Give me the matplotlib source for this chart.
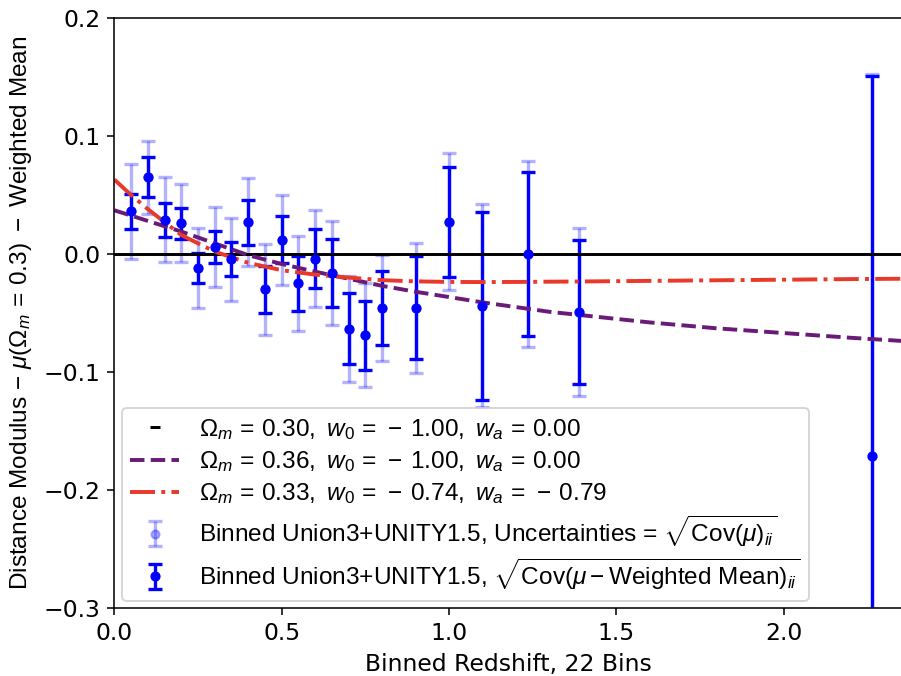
import numpy as np
import matplotlib.pyplot as plt
from matplotlib.lines import Line2D

plt.rcParams['mathtext.fontset'] = 'custom'
plt.rcParams['mathtext.rm'] = 'Liberation Sans'
plt.rcParams['mathtext.it'] = 'Liberation Sans:italic'
plt.rcParams['mathtext.bf'] = 'Liberation Sans:bold'
plt.rcParams['font.size'] = 12

# binned Hubble residuals (22 bins)
z_bin = [0.05, 0.10, 0.15, 0.20, 0.25, 0.30, 0.35, 0.40, 0.45, 0.50, 0.55,
         0.60, 0.65, 0.70, 0.75, 0.80, 0.90, 1.00, 1.10, 1.235, 1.39, 2.265]
resid = [0.036, 0.065, 0.029, 0.026, -0.012, 0.006, -0.0045, 0.027, -0.030,
         0.012, -0.025, -0.004, -0.016, -0.0635, -0.069, -0.046, -0.0455,
         0.0275, -0.044, 0.000, -0.049, -0.1715]
# sqrt(Cov(mu)_ii)
err_cov = [0.040, 0.031, 0.036, 0.033, 0.034, 0.034, 0.035, 0.037, 0.0385,
           0.038, 0.040, 0.041, 0.044, 0.045, 0.044, 0.045, 0.055, 0.058,
           0.086, 0.079, 0.071, 0.324]
# sqrt(Cov(mu - weighted mean)_ii)
err_wm = [0.0145, 0.017, 0.0145, 0.013, 0.0127, 0.0134, 0.0144, 0.019, 0.020,
          0.020, 0.023, 0.025, 0.029, 0.030, 0.029, 0.0315, 0.0435, 0.0466,
          0.0795, 0.0697, 0.061, 0.322]

# model curves relative to Om=0.3 LCDM, minus weighted mean
z_model = [0.0, 0.05, 0.1, 0.15, 0.2, 0.3, 0.4, 0.5, 0.6, 0.7, 0.8, 0.9, 1.0,
           1.1, 1.2, 1.3, 1.4, 1.6, 1.8, 2.0, 2.2, 2.4]
mu_om036 = [0.037, 0.0325, 0.028, 0.0235, 0.019, 0.009, -0.001, -0.0085,
            -0.015, -0.021, -0.027, -0.032, -0.0365, -0.041, -0.045, -0.049,
            -0.052, -0.058, -0.063, -0.067, -0.071, -0.0745]
mu_w0wa = [0.063, 0.050, 0.038, 0.027, 0.016, 0.002, -0.0075, -0.0138,
           -0.0175, -0.020, -0.0222, -0.0232, -0.0237, -0.0238, -0.0237,
           -0.0235, -0.0233, -0.0228, -0.0223, -0.0218, -0.0213, -0.0209]

fig = plt.figure(figsize=(6.4, 4.8), dpi=140.84)
ax = fig.add_axes([0.1269, 0.1006, 0.8745, 0.8728])

ax.errorbar(z_bin, resid, yerr=err_cov, fmt='o', color='blue', alpha=0.3,
            ms=4.2, elinewidth=1.7, capsize=3.5, capthick=1.7)
ax.errorbar(z_bin, resid, yerr=err_wm, fmt='o', color='blue',
            ms=4.2, elinewidth=1.7, capsize=3.5, capthick=1.7)

ax.axhline(0, color='black', lw=1.5)
ax.plot(z_model, mu_om036, '--', color='#6a1b78', lw=2)
ax.plot(z_model, mu_w0wa, '-.', color='#e8392a', lw=2)

ax.set_xlim(0, 2.356)
ax.set_ylim(-0.3, 0.2)
ax.set_xticks([0.0, 0.5, 1.0, 1.5, 2.0])
ax.set_yticks([-0.3, -0.2, -0.1, 0.0, 0.1, 0.2])
ax.set_xlabel('Binned Redshift, 22 Bins')
ax.set_ylabel(r'Distance Modulus $-\ \mu(\Omega_m\,=\,0.3)\ -$ Weighted Mean',
              family='Liberation Sans', fontsize=12.5, labelpad=5)

h_zero = Line2D([], [], color='black', marker='_', linestyle='None',
                markersize=5, markeredgewidth=1.5)
h_purple = Line2D([], [], color='#6a1b78', ls='--', lw=2)
h_red = Line2D([], [], color='#e8392a', ls='-.', lw=2)
conts = ax.containers
labels = [r'$\Omega_m\,=\,0.30,\ w_0\,=\,-\:1.00,\ w_a\,=\,0.00$',
          r'$\Omega_m\,=\,0.36,\ w_0\,=\,-\:1.00,\ w_a\,=\,0.00$',
          r'$\Omega_m\,=\,0.33,\ w_0\,=\,-\:0.74,\ w_a\,=\,-\:0.79$',
          r'Binned Union3+UNITY1.5, Uncertainties = $\sqrt{\mathrm{Cov}(\mu)_{ii}}$',
          r'Binned Union3+UNITY1.5, $\sqrt{\mathrm{Cov}(\mu - \mathrm{Weighted\ Mean})_{ii}}$']
ax.legend([h_zero, h_purple, h_red, conts[0], conts[1]], labels,
          loc='lower left', labelspacing=0.3, borderaxespad=0.3, borderpad=0.35,
          prop={'family': 'Liberation Sans', 'size': 12.5})

fig.savefig('out.png', dpi=140.84)
